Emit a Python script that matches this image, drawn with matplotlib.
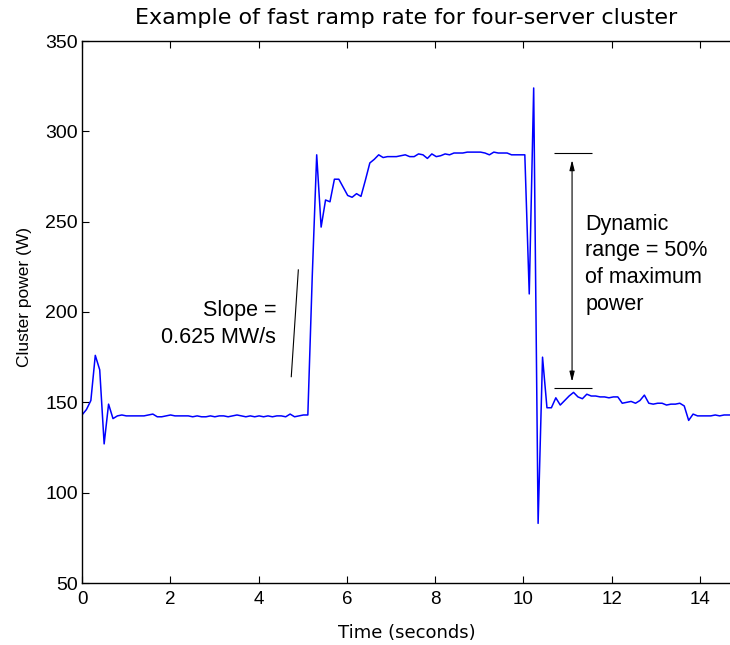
import numpy as np
import matplotlib
matplotlib.use("Agg")
import matplotlib.pyplot as plt

plt.rcParams['font.family'] = ['Liberation Sans', 'DejaVu Sans']

# cluster power, one sample roughly every 0.1 s
dt = 0.1003
power = [
    143, 146, 151, 176, 168, 127, 149, 141, 142.5, 143,            # 0.0 - 0.9
    142.5, 142.5, 142.5, 142.5, 142.5, 143, 143.5, 142, 142, 142.5,  # 1.0 - 1.9
    143, 142.5, 142.5, 142.5, 142.5, 142, 142.5, 142, 142, 142.5,    # 2.0 - 2.9
    142, 142.5, 142.5, 142, 142.5, 143, 142.5, 142, 142.5, 142,      # 3.0 - 3.9
    142.5, 142, 142.5, 142, 142.5, 142.5, 142, 143.5, 142, 142.5,    # 4.0 - 4.9
    143, 143, 220, 287, 247, 262, 261, 273.5, 273.5, 269,            # 5.0 - 5.9
    264.5, 263.5, 265.5, 264, 273, 282.5, 284.5, 287, 285.5, 286,    # 6.0 - 6.9
    286, 286, 286.5, 287, 286, 286, 287.5, 287, 285, 287.5,          # 7.0 - 7.9
    286, 286.5, 287.5, 287, 288, 288, 288, 288.5, 288.5, 288.5,      # 8.0 - 8.9
    288.5, 288, 287, 288.5, 288, 288, 288, 287, 287, 287,            # 9.0 - 9.9
    287, 210, 324, 83, 175, 147, 147, 152.5, 148.5, 151,             # 10.0 - 10.9
    153.5, 155.5, 153, 152, 154.5, 153.5, 153.5, 153, 153, 152.5,    # 11.0 - 11.9
    153, 153, 149.5, 150, 150.5, 149.5, 151, 154, 149.5, 149,        # 12.0 - 12.9
    149.5, 149.5, 148.5, 149, 149, 149.5, 148, 140, 143.5, 142.5,    # 13.0 - 13.9
    142.5, 142.5, 142.5, 143, 142.5, 143, 143, 143,                  # 14.0 - 14.7
]
t = np.arange(len(power)) * dt

xticks = np.arange(0, 15, 2)
yticks = np.arange(50, 351, 50)

fig = plt.figure(figsize=(7.3, 6.45), dpi=100)
ax = fig.add_axes([82 / 730, 62 / 645, 649 / 730, 542 / 645])

ax.plot(t, power, color='#0000ff', lw=1.1)

# slope marker
ax.plot([4.74, 4.90], [164.2, 223.3], color='k', lw=0.8)
ax.text(4.40, 193.4, "Slope =\n0.625 MW/s", ha='right', va='center',
        multialignment='right', fontsize=15.5, linespacing=1.35)

# dynamic range marker
ax.hlines([288.2, 158], 10.68, 11.55, color='k', lw=0.8)
ax.annotate('', xy=(11.1, 284.1), xytext=(11.1, 161.4),
            arrowprops=dict(arrowstyle='<|-|>,head_length=0.6,head_width=0.15',
                            color='k', lw=0.8, shrinkA=0, shrinkB=0))
ax.text(11.40, 226.5, "Dynamic\nrange = 50%\nof maximum\npower", ha='left',
        va='center', multialignment='left', fontsize=15.5, linespacing=1.35)

ax.set_xlim(0, 14.7)
ax.set_ylim(50, 350)
ax.set_xticks(xticks)
ax.set_yticks(yticks)
ax.spines['right'].set_visible(False)
for s in ax.spines.values():
    s.set_linewidth(1.0)
ax.tick_params(direction='in', top=True, right=False, length=5, width=0.8)
ax.tick_params(axis='x', pad=6, labelsize=13.5)
ax.tick_params(axis='y', pad=3, labelsize=14)

ax.set_xlabel("Time (seconds)", fontsize=13, family='DejaVu Sans', labelpad=11)
ax.set_ylabel("Cluster power (W)", fontsize=12.5)
ax.yaxis.set_label_coords(-0.077, 0.528)
ax.set_title("Example of fast ramp rate for four-server cluster",
             fontsize=16, family='DejaVu Sans', pad=12.5)

fig.savefig("out.png", dpi=100)
